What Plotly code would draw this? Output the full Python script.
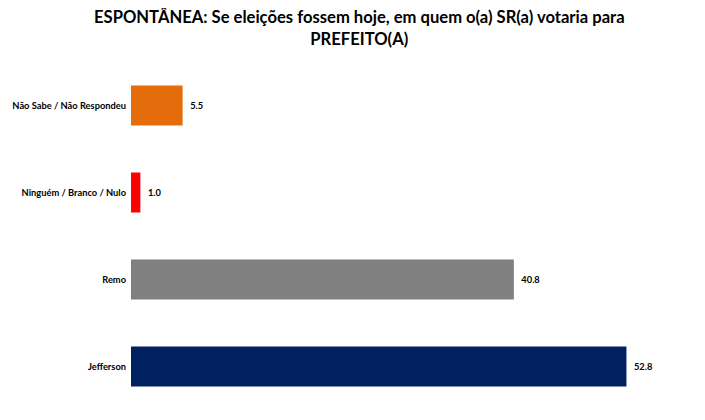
import plotly.graph_objects as go

categories = ["Jefferson", "Remo", "Ninguém / Branco / Nulo", "Não Sabe / Não Respondeu"]
values = [52.8, 40.8, 1.0, 5.5]
colors = ["#002060", "#808080", "#FF0000", "#E46C0A"]
title_text = "ESPONTÂNEA: Se eleições fossem hoje, em quem o(a) SR(a) votaria para<br>PREFEITO(A)"

# the page body adds an 8px offset, margins compensate for it
L, R, T, B = 123, 19, 54, 18
W, H = 705, 420
plot_w = W - L - R

fig = go.Figure(go.Bar(
    y=categories,
    x=values,
    orientation="h",
    marker=dict(color=colors, line=dict(width=0)),
    texttemplate="  %{x:.1f}",
    textposition="outside",
    textfont=dict(family="Lato", size=9.3, color="#000000", weight="bold"),
    cliponaxis=False,
))

fig.add_annotation(
    text=title_text,
    xref="paper", yref="paper", x=(351 - L) / plot_w, y=1.0,
    xanchor="center", yanchor="top",
    yshift=T + 3,
    showarrow=False,
    align="center",
    font=dict(family="Lato", size=16.6, color="#000000", weight="bold"),
)

fig.update_layout(
    width=W, height=H,
    margin=dict(l=L, r=R, t=T, b=B),
    paper_bgcolor="white", plot_bgcolor="white",
    bargap=0.54,
    showlegend=False,
    xaxis=dict(range=[0, 60], visible=False, showgrid=False, zeroline=False, automargin=False),
    yaxis=dict(
        showgrid=False, zeroline=False, showline=False, ticks="",
        tickfont=dict(family="Lato", size=9.3, color="#000000", weight="bold"),
        ticklabelstandoff=4, automargin=False,
    ),
)

fig.write_html("out.html")
